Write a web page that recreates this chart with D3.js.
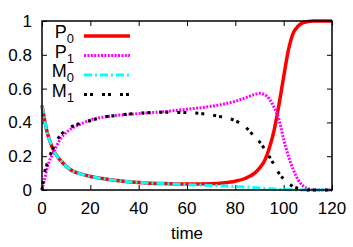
<!DOCTYPE html>
<meta charset="utf-8">
<head>
  <title>P/M vs time</title>
</head>
<style>
  body { margin: 0; background: #fff; }
  text { font-family: "Liberation Sans", Arial, sans-serif; fill: #000; }
</style>
<body>
  <svg width="353" height="247"></svg>

  <script src="https://cdnjs.cloudflare.com/ajax/libs/d3/7.8.5/d3.min.js"></script>
  <script>
  // sampled time points
  var time = [0,1,2,3,4,5,6,8,10,13,16,20,25,30,40,50,60,70,75,80,84,88,90,92,94,96,98,100,102,104,106,108,110,112,116,120];

  var P0 = [0.5,0.42,0.35,0.3,0.26,0.23,0.205,0.17,0.14,0.11,0.095,0.08,0.068,0.058,0.045,0.038,0.035,0.037,0.042,0.052,0.068,0.1,0.13,0.17,0.245,0.35,0.5,0.67,0.83,0.93,0.97,0.99,0.997,1,1,1];
  var P1 = [0,0.06,0.12,0.17,0.2,0.23,0.26,0.31,0.34,0.37,0.39,0.415,0.43,0.44,0.452,0.463,0.478,0.495,0.508,0.525,0.545,0.565,0.572,0.565,0.54,0.49,0.42,0.3,0.2,0.12,0.06,0.025,0.008,0.002,0,0];
  var M0 = [0.5,0.42,0.35,0.3,0.26,0.23,0.205,0.17,0.14,0.11,0.095,0.08,0.068,0.058,0.045,0.038,0.032,0.027,0.024,0.02,0.017,0.014,0.012,0.01,0.008,0.006,0.004,0.003,0.002,0.001,0,0,0,0,0,0];
  var M1 = [0,0.1,0.15,0.19,0.23,0.26,0.29,0.33,0.355,0.38,0.395,0.41,0.43,0.44,0.454,0.46,0.458,0.444,0.43,0.41,0.375,0.315,0.285,0.245,0.2,0.15,0.1,0.065,0.04,0.02,0.01,0.004,0,0,0,0];

  var xTicks = [0,20,40,60,80,100,120];
  var yTicks = [0,0.2,0.4,0.6,0.8,1];
  var yTickLabels = ["0","0.2","0.4","0.6","0.8","1"];

  var series = [
    {name: "P", sub: "0", values: P0, color: "#ff0000", width: 3.5, dash: null},
    {name: "P", sub: "1", values: P1, color: "#ff00ff", width: 3, dash: "2,1.4"},
    {name: "M", sub: "0", values: M0, color: "#00ffff", width: 3, dash: "8,3,2,3"},
    {name: "M", sub: "1", values: M1, color: "#000000", width: 3, dash: "3,3,3,9"}
  ];

  var pl = 42, pr = 332, pt = 21, pb = 190;
  var svg = d3.select("svg");

  var x = d3.scaleLinear().domain([0, 120]).range([pl, pr]);
  var y = d3.scaleLinear().domain([0, 1]).range([pb, pt]);

  // frame ticks (inward, mirrored)
  var g = svg.append("g");
  g.append("g").attr("transform", "translate(0," + pb + ")")
    .call(d3.axisTop(x).tickValues(xTicks).tickSize(5).tickFormat(""));
  g.append("g").attr("transform", "translate(0," + pt + ")")
    .call(d3.axisBottom(x).tickValues(xTicks).tickSize(5).tickFormat(""));
  g.append("g").attr("transform", "translate(" + pl + ",0)")
    .call(d3.axisRight(y).tickValues(yTicks).tickSize(5).tickFormat(""));
  g.append("g").attr("transform", "translate(" + pr + ",0)")
    .call(d3.axisLeft(y).tickValues(yTicks).tickSize(5).tickFormat(""));
  g.selectAll(".domain").remove();
  g.selectAll(".tick line").attr("stroke", "#000").attr("stroke-width", 1);

  // tick labels
  svg.selectAll(".xl").data(xTicks).enter().append("text")
    .attr("x", function(d) { return x(d); })
    .attr("y", 214)
    .attr("text-anchor", "middle")
    .style("font-size", "17px")
    .text(function(d) { return d; });
  svg.selectAll(".yl").data(yTicks).enter().append("text")
    .attr("x", 32)
    .attr("y", function(d) { return y(d) + 6; })
    .attr("text-anchor", "end")
    .style("font-size", "17px")
    .text(function(d, i) { return yTickLabels[i]; });

  svg.append("text")
    .attr("x", (pl + pr) / 2)
    .attr("y", 239)
    .attr("text-anchor", "middle")
    .style("font-size", "17px")
    .text("time");

  // curves
  var line = d3.line()
    .x(function(d) { return x(d[0]); })
    .y(function(d) { return y(d[1]); })
    .curve(d3.curveMonotoneX);

  series.forEach(function(s) {
    svg.append("path")
      .datum(time.map(function(t, i) { return [t, s.values[i]]; }))
      .attr("d", line)
      .attr("fill", "none")
      .attr("stroke", s.color)
      .attr("stroke-width", s.width)
      .attr("stroke-dasharray", s.dash);
  });

  // legend
  var legendY = [36, 55.5, 75, 94.5];
  series.forEach(function(s, i) {
    var t = svg.append("text")
      .attr("x", 74)
      .attr("y", legendY[i] + 2)
      .attr("text-anchor", "end")
      .style("font-size", "18px");
    t.append("tspan").text(s.name);
    t.append("tspan").attr("dy", 5).style("font-size", "13px").text(s.sub);
    svg.append("line")
      .attr("x1", 84).attr("x2", 130)
      .attr("y1", legendY[i]).attr("y2", legendY[i])
      .attr("stroke", s.color)
      .attr("stroke-width", s.width)
      .attr("stroke-dasharray", s.dash);
  });

  // border
  svg.append("rect")
    .attr("x", pl).attr("y", pt)
    .attr("width", pr - pl).attr("height", pb - pt)
    .attr("fill", "none").attr("stroke", "#000").attr("stroke-width", 1.5);
  </script>
</body>
</html>
